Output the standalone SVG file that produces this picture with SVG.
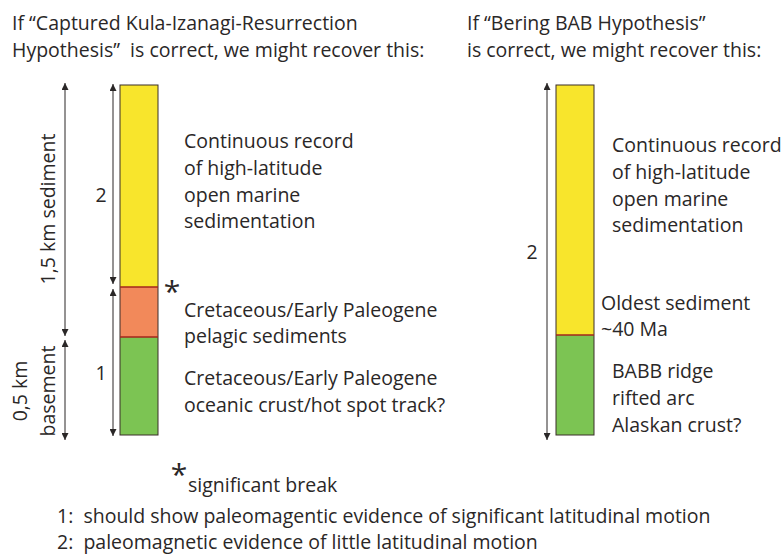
<svg xmlns="http://www.w3.org/2000/svg" width="782" height="554" viewBox="0 0 782 554">
<style>
  text { font-family: "Open Sans", "Liberation Sans", sans-serif; font-size: 19.5px; fill: #2a2727; }
  .ast { font-size: 30px; }
  .col { stroke: #3a2e2a; stroke-width: 1; }
  .yel { fill: #f8e52c; }
  .ora { fill: #f2895a; }
  .grn { fill: #7cc453; }
  .brk { stroke: #a3261c; stroke-width: 1.5; }
  .arr { stroke: #2a2727; stroke-width: 1; fill: none; marker-start: url(#ah); marker-end: url(#ah); }
</style>
<defs>
  <marker id="ah" viewBox="0 0 10 10" refX="10" refY="5" markerWidth="8" markerHeight="7" markerUnits="userSpaceOnUse" orient="auto-start-reverse">
    <path d="M0,0 L10,5 L0,10 Z" fill="#2a2727"/>
  </marker>
</defs>
<rect width="782" height="554" fill="#ffffff"/>

<g id="header-left">
  <text x="12" y="30">If “Captured Kula-Izanagi-Resurrection</text>
  <text x="12" y="57">Hypothesis”&#160; is correct, we might recover this:</text>
</g>
<g id="header-right">
  <text x="467" y="30">If “Bering BAB Hypothesis”</text>
  <text x="467" y="57">is correct, we might recover this:</text>
</g>

<g id="column-left">
  <rect class="yel" x="120" y="85" width="38" height="202"/>
  <rect class="ora" x="120" y="287" width="38" height="50"/>
  <rect class="grn" x="120" y="337" width="38" height="98"/>
  <rect class="col" x="120" y="85" width="38" height="350" fill="none"/>
  <line class="brk" x1="120" y1="287" x2="158" y2="287"/>
  <line class="brk" x1="120" y1="337" x2="158" y2="337"/>
</g>

<g id="column-right">
  <rect class="yel" x="556" y="85" width="38" height="250"/>
  <rect class="grn" x="556" y="335" width="38" height="100"/>
  <rect class="col" x="556" y="85" width="38" height="350" fill="none"/>
  <line class="brk" x1="556" y1="335" x2="594" y2="335"/>
</g>

<g id="connectors">
  <line class="arr" x1="65" y1="83" x2="65" y2="336"/>
  <line class="arr" x1="65" y1="340" x2="65" y2="440"/>
  <line class="arr" x1="113" y1="84" x2="113" y2="284"/>
  <line class="arr" x1="113" y1="289" x2="113" y2="436"/>
  <line class="arr" x1="547" y1="83" x2="547" y2="440"/>
</g>

<g id="scale-labels">
  <text transform="translate(55,209) rotate(-90)" text-anchor="middle">1,5 km sediment</text>
  <text transform="translate(27,391) rotate(-90)" text-anchor="middle">0,5 km</text>
  <text transform="translate(55,391) rotate(-90)" text-anchor="middle">basement</text>
  <text x="101" y="202" text-anchor="middle">2</text>
  <text x="101" y="380" text-anchor="middle">1</text>
  <text x="532" y="259" text-anchor="middle">2</text>
</g>

<g id="left-upper-label">
  <text x="184" y="148">Continuous record</text>
  <text x="184" y="175">of high-latitude</text>
  <text x="184" y="202">open marine</text>
  <text x="184" y="228">sedimentation</text>
</g>
<g id="break-mark">
  <text class="ast" x="172" y="302" text-anchor="middle">*</text>
</g>
<g id="left-middle-label">
  <text x="184" y="317">Cretaceous/Early Paleogene</text>
  <text x="184" y="343">pelagic sediments</text>
</g>
<g id="left-lower-label">
  <text x="184" y="385">Cretaceous/Early Paleogene</text>
  <text x="184" y="412">oceanic crust/hot spot track?</text>
</g>

<g id="right-upper-label">
  <text x="612" y="152">Continuous record</text>
  <text x="612" y="179">of high-latitude</text>
  <text x="612" y="206">open marine</text>
  <text x="612" y="232">sedimentation</text>
</g>
<g id="right-middle-label">
  <text x="601" y="310">Oldest sediment</text>
  <text x="601" y="336">~40 Ma</text>
</g>
<g id="right-lower-label">
  <text x="612" y="378">BABB ridge</text>
  <text x="612" y="405">rifted arc</text>
  <text x="612" y="432">Alaskan crust?</text>
</g>

<g id="legend">
  <text class="ast" x="179" y="485" text-anchor="middle">*</text>
  <text x="188" y="492">significant break</text>
  <text x="57" y="523">1:&#160; should show paleomagentic evidence of significant latitudinal motion</text>
  <text x="57" y="549">2:&#160; paleomagnetic evidence of little latitudinal motion</text>
</g>
</svg>
